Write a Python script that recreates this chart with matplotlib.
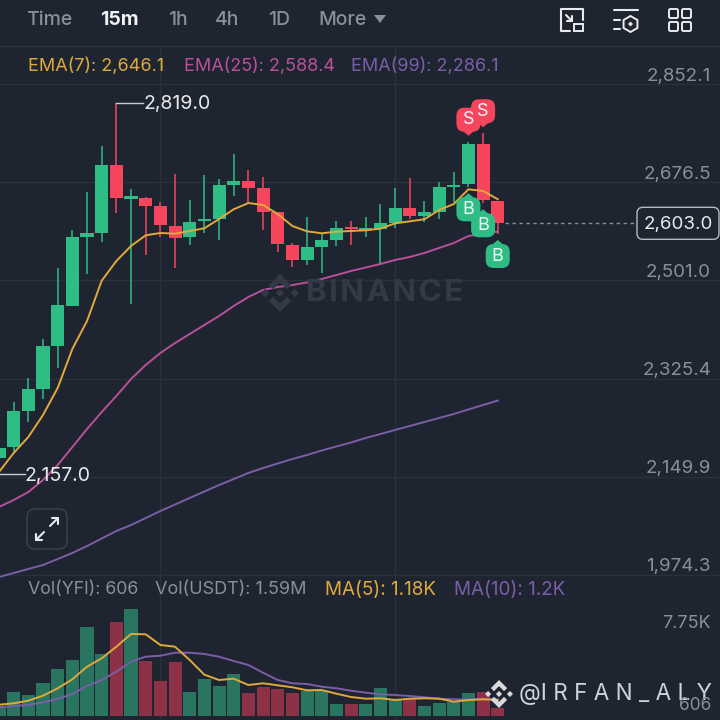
import matplotlib
matplotlib.use("Agg")
import matplotlib.pyplot as plt
from matplotlib.patches import FancyBboxPatch, Polygon, RegularPolygon

plt.rcParams["font.family"] = ["Inter", "DejaVu Sans"]

# candles, oldest first
opens = [2184.0, 2202.5, 2267.4, 2306.8, 2384.2, 2455.7, 2579.1, 2585.7, 2706.7, 2647.0, 2648.3, 2634.5,
         2598.2, 2578.0, 2606.6, 2610.2, 2671.5, 2678.1, 2666.7, 2623.8, 2564.2, 2536.9, 2561.2, 2573.2,
         2596.4, 2590.5, 2592.8, 2604.1, 2630.4, 2616.1, 2623.8, 2667.9, 2672.8, 2744.8, 2643.4]
highs = [2206.6, 2284.0, 2326.4, 2396.2, 2522.6, 2591.0, 2659.5, 2741.3, 2819.0, 2664.4, 2649.5, 2640.6,
         2690.7, 2644.2, 2689.4, 2681.7, 2727.5, 2697.8, 2686.4, 2623.8, 2567.3, 2614.3, 2585.2, 2606.6,
         2607.2, 2614.3, 2637.0, 2665.6, 2683.5, 2642.4, 2677.4, 2695.3, 2748.9, 2764.0, 2643.4]
lows = [2176.2, 2192.9, 2247.8, 2288.9, 2344.9, 2455.7, 2511.8, 2570.1, 2620.9, 2458.7, 2546.9, 2579.1,
        2522.6, 2564.8, 2585.7, 2572.6, 2652.4, 2638.8, 2591.1, 2551.7, 2524.9, 2528.0, 2513.6, 2563.0,
        2563.7, 2579.1, 2530.3, 2595.2, 2611.3, 2604.8, 2610.7, 2641.7, 2667.4, 2638.8, 2583.9]
closes = [2201.8, 2267.4, 2306.8, 2384.2, 2457.0, 2578.0, 2585.2, 2707.3, 2647.7, 2651.3, 2633.4, 2599.5,
          2577.3, 2604.8, 2610.2, 2672.0, 2678.1, 2666.7, 2623.8, 2565.5, 2537.4, 2561.2, 2572.6, 2595.2,
          2593.4, 2594.1, 2604.1, 2630.4, 2616.1, 2623.2, 2667.9, 2672.0, 2744.8, 2644.7, 2603.0]

ema7 = [2158.4, 2192.3, 2221.0, 2260.3, 2308.6, 2378.3, 2428.4, 2500.4, 2535.6, 2562.5, 2581.6, 2585.7,
        2584.4, 2589.3, 2594.1, 2610.7, 2628.1, 2639.3, 2635.8, 2619.6, 2598.2, 2588.7, 2585.2, 2588.0,
        2589.3, 2590.5, 2593.4, 2603.0, 2606.6, 2610.2, 2626.8, 2637.5, 2663.8, 2660.8, 2646.1]
ema25 = [2095.8, 2108.3, 2122.6, 2144.0, 2170.9, 2203.0, 2235.2, 2265.6, 2294.3, 2324.6, 2349.7, 2371.1,
         2389.0, 2405.1, 2421.2, 2437.3, 2455.2, 2471.3, 2483.8, 2489.1, 2492.7, 2497.2, 2503.4, 2510.6,
         2517.8, 2524.0, 2530.3, 2537.4, 2542.8, 2550.0, 2558.9, 2567.8, 2580.3, 2583.9, 2588.4]
ema99 = [1970.6, 1977.8, 1985.0, 1992.1, 2002.8, 2013.5, 2026.0, 2039.4, 2052.9, 2063.6, 2076.1, 2088.6,
         2100.2, 2111.9, 2123.5, 2135.1, 2145.8, 2156.6, 2165.5, 2173.6, 2181.6, 2188.8, 2196.8, 2204.0,
         2211.1, 2219.2, 2226.3, 2233.5, 2240.6, 2247.8, 2254.9, 2262.1, 2270.1, 2278.2, 2286.1]

volumes = [730, 1752, 1557, 2385, 3455, 4088, 6473, 4526, 6838, 7811, 4039, 2579,
           3942, 1752, 2676, 2190, 3090, 1679, 2117, 1947, 1655, 1849, 1825, 876,
           876, 852, 2020, 1168, 1217, 730, 925, 1022, 1655, 1728, 606]
ma5 = [825, 927, 1117, 1482, 2022, 2679, 3599, 4212, 5059, 5986, 5964, 5183,
       5059, 4088, 3015, 2628, 2723, 2263, 2387, 2241, 2095, 1876, 1898, 1628,
       1387, 1263, 1292, 1168, 1263, 1292, 1263, 1044, 1168, 1219, 1180]
ma10 = [635, 730, 803, 1000, 1241, 1606, 2190, 2628, 3234, 3964, 4329, 4402,
        4621, 4621, 4526, 4329, 4015, 3723, 3161, 2628, 2387, 2336, 2139, 2022,
        1847, 1701, 1584, 1533, 1460, 1365, 1263, 1219, 1190, 1241, 1200]

price_ticks = [2852.1, 2676.5, 2501.0, 2325.4, 2149.9, 1974.3]
price_labels = ["2,852.1", "2,676.5", "2,501.0", "2,325.4", "2,149.9", "1,974.3"]
time_ticks = [11, 27]
last_price = 2603.0
high_index = 8
sell_signals = [32, 33]
buy_signals = [32, 33, 34]
intervals = ["Time", "15m", "1h", "4h", "1D", "More"]

BG = "#1f2530"
GRID = "#2b313b"
GREEN = "#2ebd85"
RED = "#f6465d"
VOL_GREEN = "#2a7560"
VOL_RED = "#8d3147"
YELLOW = "#dfa93c"
PINK = "#b9509a"
PURPLE = "#7a5ea8"
GRAY = "#8a909b"
WHITE = "#e8eaed"

fig = plt.figure(figsize=(7.2, 7.2), dpi=100, facecolor=BG)
ax = fig.add_axes([0, 120 / 720, 1, 554 / 720], facecolor="none")
vax = fig.add_axes([0, 0, 1, 120 / 720], facecolor="none")
ov = fig.add_axes([0, 0, 1, 1], facecolor="none")

xs = list(range(len(closes)))
for a in (ax, vax):
    a.set_xlim(0.068, 49.15)
    a.set_xticks([])
    a.set_yticks([])
    for s in a.spines.values():
        s.set_visible(False)
    for t in time_ticks:
        a.axvline(t, color=GRID, lw=1, zorder=0)
ax.set_ylim(1929.5, 2920.05)
vax.set_ylim(-292, 8468)
ov.set_xlim(0, 720)
ov.set_ylim(720, 0)
ov.axis("off")

for p in price_ticks:
    ax.axhline(p, color=GRID, lw=1, zorder=0)

for i in xs:
    up = closes[i] >= opens[i]
    c = GREEN if up else RED
    ax.vlines(i, lows[i], highs[i], color=c, lw=1.1, zorder=2)
    ax.bar(i, max(abs(closes[i] - opens[i]), 3), bottom=min(opens[i], closes[i]), width=0.89, color=c, zorder=3)
    vax.bar(i, volumes[i], width=0.89, color=VOL_GREEN if up else VOL_RED, zorder=2)

ax.plot(xs, ema99, color=PURPLE, lw=1.4, zorder=4)
ax.plot(xs, ema25, color=PINK, lw=1.4, zorder=4)
ax.plot(xs, ema7, color=YELLOW, lw=1.4, zorder=4)
vax.plot(xs, ma10, color=PURPLE, lw=1.4, zorder=3)
vax.plot(xs, ma5, color=YELLOW, lw=1.4, zorder=4)


def to_px(i, price):
    x, y = ax.transData.transform((i, price))
    return x, 720 - y


# binance logo: two chevrons, two side diamonds, one in the middle
def logo(cx, cy, r, color, z=1):
    top = [(0, -1), (0.58, -0.42), (0.36, -0.2), (0, -0.56), (-0.36, -0.2), (-0.58, -0.42)]
    ov.add_patch(Polygon([(cx + a * r, cy + b * r) for a, b in top], fc=color, ec="none", zorder=z))
    ov.add_patch(Polygon([(cx + a * r, cy - b * r) for a, b in top], fc=color, ec="none", zorder=z))
    for dx in (-0.78, 0, 0.78):
        ov.add_patch(RegularPolygon((cx + dx * r, cy), 4, radius=0.22 * r, fc=color, ec="none", zorder=z))


def signal(i, price, label, color, down):
    x, y = to_px(i, price)
    tip = y - 6 if down else y + 6
    cy = tip - 16 if down else tip + 16
    ov.add_patch(FancyBboxPatch((x - 7.5, cy - 7.5), 15, 15, boxstyle="round,pad=4.5,rounding_size=8",
                                fc=color, ec="none", zorder=8))
    ov.add_patch(Polygon([(x - 6, cy + (11 if down else -11)), (x + 6, cy + (11 if down else -11)), (x, tip)],
                         fc=color, ec="none", zorder=8))
    ov.text(x, cy, label, color="#f2f3f5", fontsize=13, ha="center", va="center", zorder=9)


logo(280, 293, 19, "#343a45")
ov.text(306, 293, "\u200a".join("BINANCE"), color="#343a45", fontsize=22.5, fontweight="bold", ha="left", va="center")

for i in sell_signals:
    signal(i, highs[i], "S", RED, True)
for i in buy_signals:
    signal(i, lows[i], "B", GREEN, False)

# price axis labels sit just above their grid lines
for p, lab in zip(price_ticks, price_labels):
    x, y = to_px(0, p)
    ov.text(711, y - 8, lab, color=GRAY, fontsize=13.5, ha="right", va="center")

# last price line and box
x0, y0 = to_px(len(xs) - 1, last_price)
ov.plot([x0 + 7, 636], [y0, y0], color=GRAY, lw=1, ls=(0, (2.5, 2.5)))
ov.add_patch(FancyBboxPatch((640, y0 - 13), 76, 26, boxstyle="round,pad=3,rounding_size=6",
                            fc=BG, ec="#b5b9bf", lw=1, zorder=6))
ov.text(678, y0 + 1.5, "2,603.0", color=WHITE, fontsize=13.5, ha="center", va="center", zorder=7)

# high and low callouts
hx, hy = to_px(high_index, highs[high_index])
ov.plot([hx, hx + 27], [hy, hy], color="#c8ccd2", lw=1)
ov.text(hx + 27, hy + 1.5, "2,819.0", color=WHITE, fontsize=14, ha="left", va="center")
ov.plot([0, 25], [474, 474], color="#c8ccd2", lw=1)
ov.text(25, 475.5, "2,157.0", color=WHITE, fontsize=14, ha="left", va="center")

# top bar
ov.plot([0, 720], [46, 46], color=GRID, lw=1)
ints_x = [49, 119.5, 178, 227.5, 279, 342]
for lab, x in zip(intervals, ints_x):
    sel = lab == "15m"
    ov.text(x, 20, lab, color="#f0f1f3" if sel else GRAY, fontsize=14, fontweight="bold" if sel else "medium",
            ha="center", va="center")
ov.add_patch(Polygon([(374, 15), (386, 15), (380, 23)], fc=GRAY, ec="none"))

# legend rows
for x, s, c in [(28, "EMA(7): 2,646.1", YELLOW), (184, "EMA(25): 2,588.4", PINK), (351, "EMA(99): 2,286.1", PURPLE)]:
    ov.text(x, 66, s, color=c, fontsize=13, ha="left", va="center")
for x, s, c, fs in [(28, "Vol(YFI): 606", GRAY, 12.8), (155, "Vol(USDT): 1.59M", GRAY, 13), (325, "MA(5): 1.18K", YELLOW, 13.6),
                    (454, "MA(10): 1.2K", PURPLE, 13.6)]:
    ov.text(x, 590, s, color=c, fontsize=fs, ha="left", va="center")
ov.text(711, 623, "7.75K", color=GRAY, fontsize=13, ha="right", va="center")

# header icons
ic = dict(color=WHITE, lw=1.5, solid_capstyle="round")
ov.plot([583, 583, 561, 561, 570], [20, 9, 9, 31, 31], **ic)
ov.add_patch(FancyBboxPatch((574, 24), 9, 7, boxstyle="square,pad=0", fc="none", ec=WHITE, lw=1.4))
ov.plot([566, 572], [15, 21], **ic)
ov.plot([567, 572, 572], [21, 21, 16], **ic)
ov.plot([614, 638], [10, 10], **ic)
ov.plot([614, 620], [20, 20], **ic)
ov.plot([614, 620], [29, 29], **ic)
ov.add_patch(RegularPolygon((630.5, 24), 6, radius=8, fc="none", ec=WHITE, lw=1.4))
ov.add_patch(RegularPolygon((630.5, 24), 4, radius=2.5, fc=WHITE, ec="none"))
for x, y in [(669, 9), (682, 9), (669, 22), (682, 22)]:
    ov.add_patch(FancyBboxPatch((x + 1, y + 1), 7, 7, boxstyle="round,pad=1,rounding_size=1.5", fc="none", ec=WHITE, lw=1.4))

# expand button
ov.add_patch(FancyBboxPatch((30, 512), 34, 34, boxstyle="round,pad=3,rounding_size=8", fc=BG, ec="#383e49", lw=1.2))
ov.plot([50, 58], [526, 518], **ic)
ov.plot([44, 36], [532, 540], **ic)
ov.plot([52, 58, 58], [518, 518, 524], **ic)
ov.plot([36, 36, 42], [534, 540, 540], **ic)

# author watermark, the volume label shows through it
logo(499, 694, 14, "#d8d9dc", z=10)
ov.text(519, 694, "@I R F A N _ A L Y", color="#cfd3d8", fontsize=16.2, ha="left", va="center", zorder=10)
ov.text(711, 705.5, "606", color=GRAY, fontsize=12.5, ha="right", va="center", zorder=11)

fig.savefig("out.png", dpi=100, facecolor=BG)
